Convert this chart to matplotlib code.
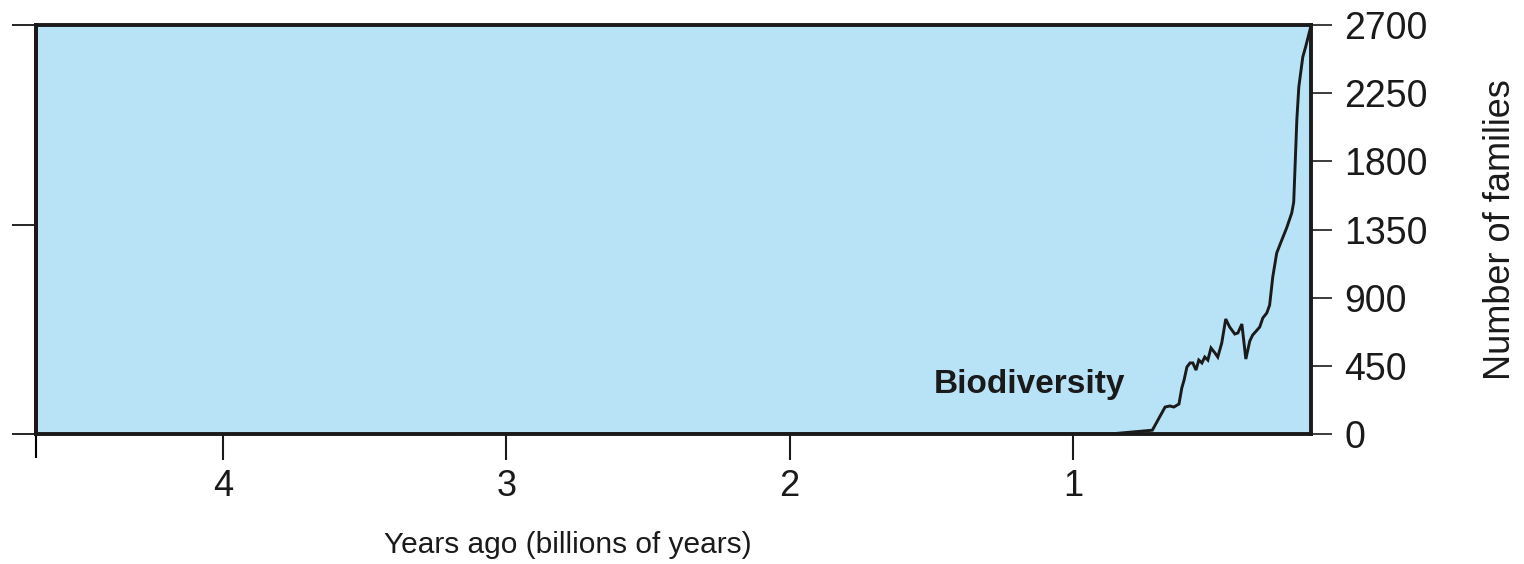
import matplotlib.pyplot as plt

plt.rcParams['font.family'] = ['Liberation Sans', 'DejaVu Sans']

# Biodiversity curve (billions of years ago, number of families)
years_ago = [3.16, 0.87, 0.72, 0.675, 0.658, 0.644, 0.626, 0.616, 0.608, 0.598,
             0.587, 0.577, 0.566, 0.556, 0.545, 0.535, 0.524, 0.513, 0.499, 0.489,
             0.475, 0.461, 0.447, 0.429, 0.418, 0.404, 0.390, 0.376, 0.366, 0.341,
             0.330, 0.316, 0.306, 0.295, 0.281, 0.263, 0.246, 0.228, 0.221, 0.210,
             0.203, 0.189, 0.179, 0.171, 0.161]
families = [0, 0, 25, 178, 185, 178, 198, 304, 356, 442,
            469, 469, 422, 488, 469, 508, 488, 568, 535, 508,
            601, 759, 706, 660, 667, 726, 495, 614, 653, 706,
            766, 799, 851, 1036, 1195, 1281, 1360, 1459, 1531, 2073,
            2291, 2489, 2555, 2614, 2687]

x_ticks = [4, 3, 2, 1]
y_ticks = [0, 450, 900, 1350, 1800, 2250, 2700]
left_ticks = [0, 1380, 2700]

fig = plt.figure(figsize=(15.24, 5.64), dpi=100)
ax = fig.add_axes([36 / 1524, 1 - 434 / 564, (1311 - 36) / 1524, (434 - 25) / 564])
ax.set_facecolor('#b8e3f7')

ax.plot(years_ago, families, color='#1a1a1a', lw=2.1, solid_joinstyle='miter')

ax.set_xlim(4.66, 0.16)
ax.set_ylim(0, 2700)

for s in ax.spines.values():
    s.set_linewidth(2.8)
    s.set_color('#1a1a1a')

# x ticks point down
ax.set_xticks(x_ticks)
ax.set_xticks([4.66], minor=True)
ax.tick_params(axis='x', which='major', direction='out', length=19, width=1.5,
               pad=6, labelsize=26, colors='#1a1a1a')
ax.tick_params(axis='x', which='minor', direction='out', length=17, width=1.5)

# right y axis with labels
ax.yaxis.tick_right()
ax.yaxis.set_label_position('right')
ax.set_yticks(y_ticks)
ax.tick_params(axis='y', direction='out', length=15, width=1.2, pad=9,
               labelsize=27, colors='#1a1a1a')
ax.set_ylabel('Number of families', fontsize=26, color='#1a1a1a')
ax.yaxis.set_label_coords(1.135, 0.5)

# unlabeled ticks on the left side
sec = ax.secondary_yaxis('left')
sec.set_yticks(left_ticks)
sec.set_yticklabels([])
sec.tick_params(direction='out', length=17, width=1.2)
sec.spines['left'].set_linewidth(2.8)

ax.text(0.817, 326, 'Biodiversity', fontsize=24, fontweight='bold',
        ha='right', va='center', color='#1a1a1a')

fig.text(568 / 1524, 1 - 545 / 564, 'Years ago (billions of years)', fontsize=21.5,
         ha='center', va='center', color='#1a1a1a')

fig.savefig('out.png', dpi=100, facecolor='white')
